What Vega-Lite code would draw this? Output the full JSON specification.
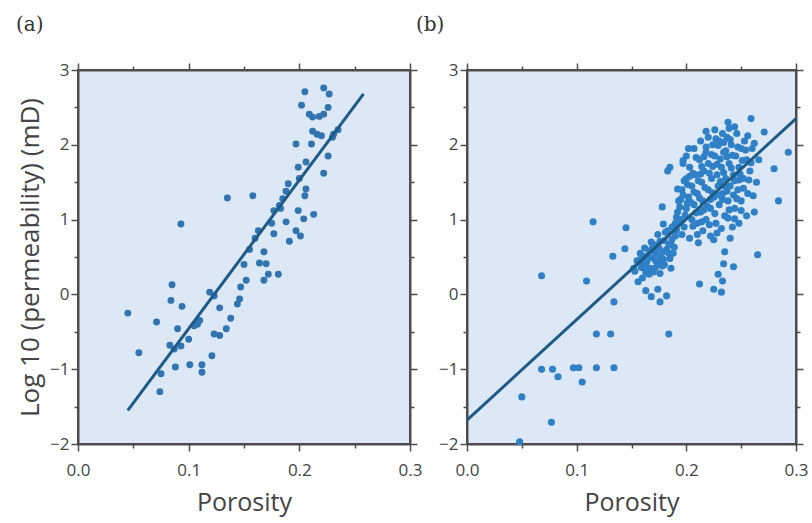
{
  "$schema": "https://vega.github.io/schema/vega-lite/v6.json",
  "background": "white",
  "padding": {"left": 15, "top": 14, "right": 5, "bottom": 5},
  "spacing": 57,
  "bounds": "flush",
  "datasets": {
    "a_points": [
      {"porosity": 0.093, "logk": 0.94}, {"porosity": 0.135, "logk": 1.29}, {"porosity": 0.158, "logk": 1.32},
      {"porosity": 0.205, "logk": 2.71}, {"porosity": 0.202, "logk": 2.53}, {"porosity": 0.222, "logk": 2.76},
      {"porosity": 0.227, "logk": 2.68}, {"porosity": 0.226, "logk": 2.5}, {"porosity": 0.209, "logk": 2.41},
      {"porosity": 0.212, "logk": 2.37}, {"porosity": 0.218, "logk": 2.38}, {"porosity": 0.222, "logk": 2.41},
      {"porosity": 0.212, "logk": 2.18}, {"porosity": 0.216, "logk": 2.14}, {"porosity": 0.22, "logk": 2.12},
      {"porosity": 0.231, "logk": 2.14}, {"porosity": 0.197, "logk": 2.01}, {"porosity": 0.211, "logk": 2.01},
      {"porosity": 0.226, "logk": 1.85}, {"porosity": 0.206, "logk": 1.77}, {"porosity": 0.199, "logk": 1.7},
      {"porosity": 0.222, "logk": 1.62}, {"porosity": 0.19, "logk": 1.48}, {"porosity": 0.188, "logk": 1.38},
      {"porosity": 0.206, "logk": 1.41}, {"porosity": 0.205, "logk": 1.32}, {"porosity": 0.185, "logk": 1.28},
      {"porosity": 0.182, "logk": 1.19}, {"porosity": 0.177, "logk": 1.12}, {"porosity": 0.199, "logk": 1.12},
      {"porosity": 0.213, "logk": 1.07}, {"porosity": 0.204, "logk": 1.01}, {"porosity": 0.188, "logk": 0.97},
      {"porosity": 0.163, "logk": 0.85}, {"porosity": 0.197, "logk": 0.85}, {"porosity": 0.177, "logk": 0.81},
      {"porosity": 0.201, "logk": 0.78}, {"porosity": 0.191, "logk": 0.71}, {"porosity": 0.168, "logk": 0.57},
      {"porosity": 0.164, "logk": 0.42}, {"porosity": 0.17, "logk": 0.41}, {"porosity": 0.172, "logk": 0.27},
      {"porosity": 0.168, "logk": 0.19}, {"porosity": 0.181, "logk": 0.27}, {"porosity": 0.152, "logk": 0.19},
      {"porosity": 0.147, "logk": 0.1}, {"porosity": 0.146, "logk": -0.06}, {"porosity": 0.144, "logk": -0.13},
      {"porosity": 0.119, "logk": 0.03}, {"porosity": 0.123, "logk": -0.02}, {"porosity": 0.128, "logk": -0.18},
      {"porosity": 0.138, "logk": -0.32}, {"porosity": 0.134, "logk": -0.46}, {"porosity": 0.128, "logk": -0.55},
      {"porosity": 0.123, "logk": -0.53}, {"porosity": 0.085, "logk": 0.13}, {"porosity": 0.084, "logk": -0.08},
      {"porosity": 0.094, "logk": -0.16}, {"porosity": 0.045, "logk": -0.25}, {"porosity": 0.071, "logk": -0.37},
      {"porosity": 0.09, "logk": -0.46}, {"porosity": 0.108, "logk": -0.4}, {"porosity": 0.1, "logk": -0.6},
      {"porosity": 0.093, "logk": -0.69}, {"porosity": 0.083, "logk": -0.68}, {"porosity": 0.087, "logk": -0.73},
      {"porosity": 0.055, "logk": -0.78}, {"porosity": 0.121, "logk": -0.82}, {"porosity": 0.088, "logk": -0.97},
      {"porosity": 0.101, "logk": -0.94}, {"porosity": 0.112, "logk": -0.94}, {"porosity": 0.112, "logk": -1.04},
      {"porosity": 0.075, "logk": -1.06}, {"porosity": 0.074, "logk": -1.3}, {"porosity": 0.155, "logk": 0.6},
      {"porosity": 0.16, "logk": 0.75}, {"porosity": 0.175, "logk": 0.95}, {"porosity": 0.183, "logk": 1.15},
      {"porosity": 0.2, "logk": 1.55}, {"porosity": 0.23, "logk": 2.1}, {"porosity": 0.235, "logk": 2.2},
      {"porosity": 0.11, "logk": -0.35}, {"porosity": 0.105, "logk": -0.42}, {"porosity": 0.15, "logk": 0.4}
    ],
    "a_line": [
      {"porosity": 0.045, "logk": -1.55},
      {"porosity": 0.258, "logk": 2.68}
    ],
    "b_points": [
      {"porosity": 0.068, "logk": 0.25}, {"porosity": 0.109, "logk": 0.18}, {"porosity": 0.133, "logk": 0.51},
      {"porosity": 0.134, "logk": -0.1}, {"porosity": 0.118, "logk": -0.53}, {"porosity": 0.131, "logk": -0.53},
      {"porosity": 0.184, "logk": -0.53}, {"porosity": 0.068, "logk": -1.0}, {"porosity": 0.078, "logk": -1.0},
      {"porosity": 0.083, "logk": -1.1}, {"porosity": 0.097, "logk": -0.98}, {"porosity": 0.102, "logk": -0.98},
      {"porosity": 0.105, "logk": -1.17}, {"porosity": 0.118, "logk": -0.98}, {"porosity": 0.134, "logk": -0.98},
      {"porosity": 0.05, "logk": -1.37}, {"porosity": 0.077, "logk": -1.71}, {"porosity": 0.048, "logk": -1.97},
      {"porosity": 0.115, "logk": 0.97}, {"porosity": 0.145, "logk": 0.89}, {"porosity": 0.179, "logk": 0.94},
      {"porosity": 0.144, "logk": 0.61}, {"porosity": 0.211, "logk": 0.69}, {"porosity": 0.225, "logk": 0.73},
      {"porosity": 0.235, "logk": 0.57}, {"porosity": 0.265, "logk": 0.53}, {"porosity": 0.234, "logk": 0.41},
      {"porosity": 0.243, "logk": 0.37}, {"porosity": 0.229, "logk": 0.27}, {"porosity": 0.233, "logk": 0.18},
      {"porosity": 0.212, "logk": 0.14}, {"porosity": 0.225, "logk": 0.07}, {"porosity": 0.232, "logk": 0.03},
      {"porosity": 0.163, "logk": 0.05}, {"porosity": 0.174, "logk": 0.07}, {"porosity": 0.182, "logk": -0.02},
      {"porosity": 0.168, "logk": -0.03}, {"porosity": 0.176, "logk": -0.1}, {"porosity": 0.156, "logk": 0.17},
      {"porosity": 0.178, "logk": 1.17}, {"porosity": 0.192, "logk": 1.41}, {"porosity": 0.183, "logk": 1.65},
      {"porosity": 0.185, "logk": 1.7}, {"porosity": 0.197, "logk": 1.79}, {"porosity": 0.239, "logk": 2.22},
      {"porosity": 0.259, "logk": 2.35}, {"porosity": 0.271, "logk": 2.17}, {"porosity": 0.293, "logk": 1.9},
      {"porosity": 0.28, "logk": 1.68}, {"porosity": 0.284, "logk": 1.25}, {"porosity": 0.152, "logk": 0.35},
      {"porosity": 0.16, "logk": 0.22},
      {"porosity": 0.155, "logk": 0.45}, {"porosity": 0.158, "logk": 0.55}, {"porosity": 0.16, "logk": 0.4},
      {"porosity": 0.162, "logk": 0.62}, {"porosity": 0.165, "logk": 0.5}, {"porosity": 0.167, "logk": 0.35},
      {"porosity": 0.168, "logk": 0.7}, {"porosity": 0.17, "logk": 0.58}, {"porosity": 0.172, "logk": 0.45},
      {"porosity": 0.174, "logk": 0.8}, {"porosity": 0.175, "logk": 0.62}, {"porosity": 0.177, "logk": 0.5},
      {"porosity": 0.178, "logk": 0.38}, {"porosity": 0.18, "logk": 0.72}, {"porosity": 0.182, "logk": 0.6},
      {"porosity": 0.183, "logk": 0.85}, {"porosity": 0.185, "logk": 0.48}, {"porosity": 0.186, "logk": 0.68},
      {"porosity": 0.188, "logk": 0.55}, {"porosity": 0.19, "logk": 0.78}, {"porosity": 0.163, "logk": 0.3},
      {"porosity": 0.17, "logk": 0.3}, {"porosity": 0.176, "logk": 0.28}, {"porosity": 0.18, "logk": 0.4},
      {"porosity": 0.186, "logk": 0.35},
      {"porosity": 0.19, "logk": 0.95}, {"porosity": 0.192, "logk": 1.1}, {"porosity": 0.193, "logk": 1.25},
      {"porosity": 0.195, "logk": 1.0}, {"porosity": 0.196, "logk": 1.4}, {"porosity": 0.198, "logk": 0.9},
      {"porosity": 0.2, "logk": 1.15}, {"porosity": 0.2, "logk": 1.55}, {"porosity": 0.202, "logk": 1.3},
      {"porosity": 0.203, "logk": 1.7}, {"porosity": 0.205, "logk": 1.0}, {"porosity": 0.205, "logk": 1.45},
      {"porosity": 0.207, "logk": 1.2}, {"porosity": 0.208, "logk": 1.6}, {"porosity": 0.21, "logk": 0.95},
      {"porosity": 0.21, "logk": 1.35}, {"porosity": 0.212, "logk": 1.8}, {"porosity": 0.213, "logk": 1.1},
      {"porosity": 0.214, "logk": 1.5}, {"porosity": 0.215, "logk": 1.25}, {"porosity": 0.216, "logk": 1.65},
      {"porosity": 0.218, "logk": 1.9}, {"porosity": 0.218, "logk": 1.0}, {"porosity": 0.22, "logk": 1.4},
      {"porosity": 0.22, "logk": 1.75}, {"porosity": 0.222, "logk": 1.15}, {"porosity": 0.223, "logk": 1.55},
      {"porosity": 0.224, "logk": 2.0}, {"porosity": 0.225, "logk": 1.3}, {"porosity": 0.226, "logk": 1.85},
      {"porosity": 0.227, "logk": 0.95}, {"porosity": 0.228, "logk": 1.6}, {"porosity": 0.229, "logk": 1.45},
      {"porosity": 0.23, "logk": 1.2}, {"porosity": 0.23, "logk": 2.05}, {"porosity": 0.232, "logk": 1.7},
      {"porosity": 0.233, "logk": 1.35}, {"porosity": 0.234, "logk": 1.9}, {"porosity": 0.235, "logk": 1.05},
      {"porosity": 0.236, "logk": 1.55}, {"porosity": 0.237, "logk": 2.1}, {"porosity": 0.238, "logk": 1.25},
      {"porosity": 0.239, "logk": 1.75}, {"porosity": 0.24, "logk": 1.45}, {"porosity": 0.241, "logk": 2.0},
      {"porosity": 0.242, "logk": 0.9}, {"porosity": 0.243, "logk": 1.6}, {"porosity": 0.244, "logk": 1.15},
      {"porosity": 0.245, "logk": 1.85}, {"porosity": 0.246, "logk": 2.15}, {"porosity": 0.247, "logk": 1.4},
      {"porosity": 0.248, "logk": 1.7}, {"porosity": 0.25, "logk": 1.95}, {"porosity": 0.25, "logk": 1.25},
      {"porosity": 0.252, "logk": 1.55}, {"porosity": 0.253, "logk": 2.05}, {"porosity": 0.255, "logk": 1.8},
      {"porosity": 0.256, "logk": 1.35}, {"porosity": 0.258, "logk": 1.65}, {"porosity": 0.26, "logk": 1.95},
      {"porosity": 0.262, "logk": 1.1}, {"porosity": 0.264, "logk": 1.5}, {"porosity": 0.266, "logk": 1.8},
      {"porosity": 0.197, "logk": 1.75}, {"porosity": 0.2, "logk": 1.85}, {"porosity": 0.207, "logk": 1.95},
      {"porosity": 0.213, "logk": 2.05}, {"porosity": 0.22, "logk": 2.1}, {"porosity": 0.226, "logk": 2.2},
      {"porosity": 0.233, "logk": 2.15}, {"porosity": 0.238, "logk": 2.3}, {"porosity": 0.196, "logk": 0.8},
      {"porosity": 0.203, "logk": 0.75}, {"porosity": 0.21, "logk": 0.8}, {"porosity": 0.215, "logk": 0.85},
      {"porosity": 0.222, "logk": 0.78}, {"porosity": 0.228, "logk": 0.82}, {"porosity": 0.24, "logk": 0.75},
      {"porosity": 0.248, "logk": 0.95}, {"porosity": 0.255, "logk": 1.05},
      {"porosity": 0.153, "logk": 0.31}, {"porosity": 0.157, "logk": 0.42}, {"porosity": 0.159, "logk": 0.36},
      {"porosity": 0.161, "logk": 0.51}, {"porosity": 0.164, "logk": 0.44}, {"porosity": 0.166, "logk": 0.58},
      {"porosity": 0.169, "logk": 0.49}, {"porosity": 0.171, "logk": 0.66}, {"porosity": 0.173, "logk": 0.54},
      {"porosity": 0.176, "logk": 0.71}, {"porosity": 0.179, "logk": 0.57}, {"porosity": 0.181, "logk": 0.83},
      {"porosity": 0.184, "logk": 0.66}, {"porosity": 0.187, "logk": 0.74}, {"porosity": 0.189, "logk": 0.63},
      {"porosity": 0.166, "logk": 0.27}, {"porosity": 0.172, "logk": 0.36}, {"porosity": 0.179, "logk": 0.47},
      {"porosity": 0.184, "logk": 0.55}, {"porosity": 0.187, "logk": 0.9}, {"porosity": 0.191, "logk": 0.86},
      {"porosity": 0.169, "logk": 0.62}, {"porosity": 0.174, "logk": 0.42}, {"porosity": 0.163, "logk": 0.39},
      {"porosity": 0.158, "logk": 0.47},
      {"porosity": 0.191, "logk": 1.03}, {"porosity": 0.194, "logk": 1.17}, {"porosity": 0.197, "logk": 1.33},
      {"porosity": 0.199, "logk": 1.06}, {"porosity": 0.201, "logk": 1.47}, {"porosity": 0.204, "logk": 1.23},
      {"porosity": 0.206, "logk": 1.62}, {"porosity": 0.209, "logk": 1.09}, {"porosity": 0.211, "logk": 1.52},
      {"porosity": 0.212, "logk": 1.29}, {"porosity": 0.214, "logk": 1.71}, {"porosity": 0.217, "logk": 1.43},
      {"porosity": 0.219, "logk": 1.18}, {"porosity": 0.221, "logk": 1.62}, {"porosity": 0.223, "logk": 1.87},
      {"porosity": 0.224, "logk": 1.36}, {"porosity": 0.226, "logk": 1.08}, {"porosity": 0.228, "logk": 1.74},
      {"porosity": 0.229, "logk": 1.99}, {"porosity": 0.231, "logk": 1.51}, {"porosity": 0.233, "logk": 1.27},
      {"porosity": 0.234, "logk": 1.63}, {"porosity": 0.236, "logk": 1.92}, {"porosity": 0.237, "logk": 1.38},
      {"porosity": 0.239, "logk": 1.13}, {"porosity": 0.241, "logk": 1.69}, {"porosity": 0.242, "logk": 1.86},
      {"porosity": 0.244, "logk": 1.52}, {"porosity": 0.246, "logk": 1.28}, {"porosity": 0.247, "logk": 1.97},
      {"porosity": 0.249, "logk": 1.61}, {"porosity": 0.251, "logk": 1.79}, {"porosity": 0.252, "logk": 1.42},
      {"porosity": 0.254, "logk": 1.93}, {"porosity": 0.257, "logk": 1.53}, {"porosity": 0.259, "logk": 1.76},
      {"porosity": 0.261, "logk": 1.32}, {"porosity": 0.227, "logk": 2.08}, {"porosity": 0.218, "logk": 1.97},
      {"porosity": 0.209, "logk": 1.83}, {"porosity": 0.203, "logk": 1.58}, {"porosity": 0.198, "logk": 1.52},
      {"porosity": 0.195, "logk": 1.27}, {"porosity": 0.193, "logk": 0.98}, {"porosity": 0.206, "logk": 0.91},
      {"porosity": 0.214, "logk": 0.97}, {"porosity": 0.221, "logk": 0.93}, {"porosity": 0.232, "logk": 0.88},
      {"porosity": 0.238, "logk": 1.02}, {"porosity": 0.244, "logk": 1.01}, {"porosity": 0.25, "logk": 1.12},
      {"porosity": 0.216, "logk": 1.13}, {"porosity": 0.222, "logk": 1.27}, {"porosity": 0.229, "logk": 1.33},
      {"porosity": 0.235, "logk": 1.45}, {"porosity": 0.243, "logk": 1.33}, {"porosity": 0.248, "logk": 1.53},
      {"porosity": 0.231, "logk": 1.81}, {"porosity": 0.237, "logk": 1.84}, {"porosity": 0.224, "logk": 1.71},
      {"porosity": 0.213, "logk": 1.61}, {"porosity": 0.207, "logk": 1.37}, {"porosity": 0.201, "logk": 1.22},
      {"porosity": 0.24, "logk": 2.07}, {"porosity": 0.234, "logk": 2.03}, {"porosity": 0.216, "logk": 1.84},
      {"porosity": 0.202, "logk": 1.95}, {"porosity": 0.256, "logk": 2.12}, {"porosity": 0.262, "logk": 2.02},
      {"porosity": 0.244, "logk": 2.24}, {"porosity": 0.218, "logk": 2.18}
    ],
    "b_line": [
      {"porosity": 0.0, "logk": -1.68},
      {"porosity": 0.3, "logk": 2.35}
    ]
  },
  "hconcat": [
    {
      "width": 332,
      "height": 374,
      "title": {"text": "(a)", "anchor": "start", "frame": "group", "dx": -62, "offset": 26, "font": "DejaVu Serif", "fontSize": 20, "fontWeight": "normal", "color": "#333"},
      "layer": [
        {
          "data": {"name": "a_points"},
          "mark": {"type": "circle", "size": 48, "opacity": 1, "color": "#3174b0"},
          "encoding": {
            "x": {"field": "porosity", "type": "quantitative", "scale": {"domain": [0, 0.3], "nice": false},
              "axis": {"orient": "bottom", "values": [0, 0.05, 0.1, 0.15, 0.2, 0.25, 0.3], "labelExpr": "abs(datum.value*10-round(datum.value*10))<0.001 ? format(datum.value,'.1f') : ''", "labelOverlap": false, "labelFlush": false, "labelPadding": 11, "tickSize": {"condition": {"test": "abs(datum.value*10-round(datum.value*10))>0.001", "value": 4}, "value": 7}, "title": "Porosity", "titlePadding": 12, "titleFontSize": 25}},
            "y": {"field": "logk", "type": "quantitative", "scale": {"domain": [-2, 3], "nice": false},
              "axis": {"orient": "left", "values": [-2, -1.5, -1, -0.5, 0, 0.5, 1, 1.5, 2, 2.5, 3], "labelExpr": "datum.value % 1 == 0 ? format(datum.value,'d') : ''", "labelOverlap": false, "labelFlush": false, "labelPadding": 2, "tickSize": {"condition": {"test": "datum.value % 1 != 0", "value": 4}, "value": 7}, "title": "Log 10 (permeability) (mD)", "titlePadding": 6, "titleFontSize": 26}}
          }
        },
        {
          "data": {"name": "a_line"},
          "mark": {"type": "line", "color": "#1d5a86", "strokeWidth": 3},
          "encoding": {
            "x": {"field": "porosity", "type": "quantitative", "scale": {"domain": [0, 0.3], "nice": false},
              "axis": {"orient": "top", "values": [0, 0.05, 0.1, 0.15, 0.2, 0.25, 0.3], "labels": false, "tickSize": {"condition": {"test": "abs(datum.value*10-round(datum.value*10))>0.001", "value": 4}, "value": 7}, "title": null}},
            "y": {"field": "logk", "type": "quantitative", "scale": {"domain": [-2, 3], "nice": false},
              "axis": {"orient": "right", "values": [-2, -1.5, -1, -0.5, 0, 0.5, 1, 1.5, 2, 2.5, 3], "labels": false, "tickSize": {"condition": {"test": "datum.value % 1 != 0", "value": 4}, "value": 7}, "title": null}}
          }
        }
      ],
      "resolve": {"axis": {"x": "independent", "y": "independent"}}
    },
    {
      "width": 329,
      "height": 374,
      "title": {"text": "(b)", "anchor": "start", "frame": "group", "dx": -51, "offset": 26, "font": "DejaVu Serif", "fontSize": 20, "fontWeight": "normal", "color": "#333"},
      "layer": [
        {
          "data": {"name": "b_points"},
          "mark": {"type": "circle", "size": 50, "opacity": 1, "color": "#2f80c6"},
          "encoding": {
            "x": {"field": "porosity", "type": "quantitative", "scale": {"domain": [0, 0.3], "nice": false},
              "axis": {"orient": "bottom", "values": [0, 0.05, 0.1, 0.15, 0.2, 0.25, 0.3], "labelExpr": "abs(datum.value*10-round(datum.value*10))<0.001 ? format(datum.value,'.1f') : ''", "labelOverlap": false, "labelFlush": false, "labelPadding": 11, "tickSize": {"condition": {"test": "abs(datum.value*10-round(datum.value*10))>0.001", "value": 4}, "value": 7}, "title": "Porosity", "titlePadding": 12, "titleFontSize": 25}},
            "y": {"field": "logk", "type": "quantitative", "scale": {"domain": [-2, 3], "nice": false},
              "axis": {"orient": "left", "values": [-2, -1.5, -1, -0.5, 0, 0.5, 1, 1.5, 2, 2.5, 3], "labelExpr": "datum.value % 1 == 0 ? format(datum.value,'d') : ''", "labelOverlap": false, "labelFlush": false, "labelPadding": 2, "tickSize": {"condition": {"test": "datum.value % 1 != 0", "value": 4}, "value": 7}, "title": null}}
          }
        },
        {
          "data": {"name": "b_line"},
          "mark": {"type": "line", "color": "#1d5a86", "strokeWidth": 3},
          "encoding": {
            "x": {"field": "porosity", "type": "quantitative", "scale": {"domain": [0, 0.3], "nice": false},
              "axis": {"orient": "top", "values": [0, 0.05, 0.1, 0.15, 0.2, 0.25, 0.3], "labels": false, "tickSize": {"condition": {"test": "abs(datum.value*10-round(datum.value*10))>0.001", "value": 4}, "value": 7}, "title": null}},
            "y": {"field": "logk", "type": "quantitative", "scale": {"domain": [-2, 3], "nice": false},
              "axis": {"orient": "right", "values": [-2, -1.5, -1, -0.5, 0, 0.5, 1, 1.5, 2, 2.5, 3], "labels": false, "tickSize": {"condition": {"test": "datum.value % 1 != 0", "value": 4}, "value": 7}, "title": null}}
          }
        }
      ],
      "resolve": {"axis": {"x": "independent", "y": "independent"}}
    }
  ],
  "config": {
    "view": {"fill": "#dce8f5", "stroke": "#4d4d4d", "strokeWidth": 2},
    "axis": {
      "grid": false,
      "domainColor": "#4d4d4d",
      "domainWidth": 2,
      "tickColor": "#4d4d4d",
      "tickWidth": 1.5,
      "labelFont": "Open Sans",
      "labelFontSize": 17,
      "labelColor": "#444444",
      "titleFont": "Open Sans",
      "titleFontSize": 23,
      "titleFontWeight": "normal",
      "titleColor": "#444444"
    }
  }
}
